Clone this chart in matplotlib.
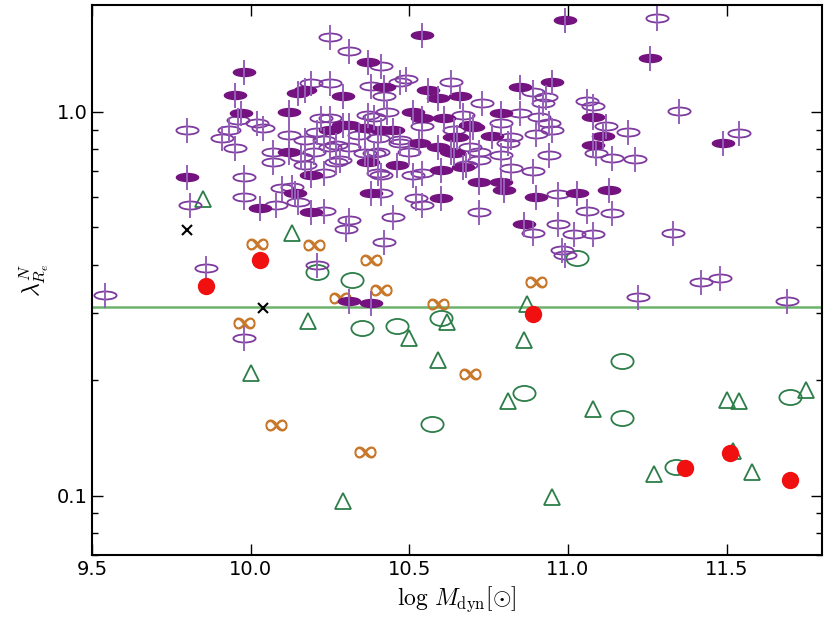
import numpy as np
import matplotlib
matplotlib.use("Agg")
import matplotlib.pyplot as plt
from matplotlib.path import Path
from matplotlib.transforms import Affine2D
from matplotlib.ticker import FixedLocator, FuncFormatter

plt.rcParams["mathtext.fontset"] = "cm"

# fast rotators, open symbols (log Mdyn, lambda_Re)
open_x = [9.54, 9.80, 9.93, 9.91, 9.95, 9.96, 10.02, 10.04, 10.07, 10.07, 9.98, 9.98,
          9.81, 10.08, 10.10, 10.12, 10.25, 10.31, 10.41, 10.19, 10.25, 10.38, 10.42,
          10.49, 10.47, 10.63, 10.25, 10.37, 10.43, 10.21, 10.17, 10.23, 10.27, 10.34,
          10.40, 10.47, 10.50, 10.40, 10.20, 10.28, 10.16, 10.17, 10.23, 10.40, 10.51,
          10.15, 10.23, 10.31, 10.30, 10.42, 10.45, 10.52, 10.54, 10.21, 9.86, 9.98,
          11.28, 11.35, 11.54, 10.89, 10.93, 10.92, 10.73, 11.06, 11.08, 11.12, 11.19,
          11.09, 11.14, 11.21, 10.85, 10.67, 10.79, 10.82, 10.90, 10.95, 10.91, 10.94,
          10.81, 10.72, 10.79, 10.94, 10.82, 10.89, 10.97, 10.72, 11.06, 11.14, 11.33,
          10.89, 10.97, 11.02, 11.08, 10.98, 10.99, 11.42, 11.48, 11.22, 11.69, 10.41,
          10.13, 10.25, 10.36, 10.54, 10.69, 10.72, 10.54, 10.64, 10.68,
          10.22, 10.39, 10.47, 10.31, 10.39, 10.41, 10.27]
open_y = [0.334, 0.90, 0.90, 0.856, 0.806, 0.953, 0.937, 0.909, 0.787, 0.741, 0.677, 0.600,
          0.573, 0.573, 0.634, 0.871, 1.57, 1.44, 1.32, 1.19, 1.19, 1.17, 1.10,
          1.22, 1.20, 1.20, 0.965, 0.982, 1.00, 0.887, 0.846, 0.846, 0.821, 0.871,
          0.856, 0.846, 0.787, 0.787, 0.787, 0.750, 0.764, 0.728, 0.694, 0.694, 0.685,
          0.583, 0.552, 0.523, 0.496, 0.459, 0.533, 0.597, 0.573, 0.400, 0.393, 0.258,
          1.76, 1.006, 0.882, 1.127, 1.094, 1.055, 1.055, 1.068, 1.036, 0.919, 0.887,
          0.782, 0.759, 0.755, 0.994, 0.982, 0.937, 0.861, 0.876, 0.898, 0.971, 0.937,
          0.831, 0.787, 0.773, 0.773, 0.715, 0.702, 0.612, 0.549, 0.552, 0.546, 0.484,
          0.484, 0.511, 0.481, 0.481, 0.437, 0.424, 0.361, 0.370, 0.330, 0.322, 0.616,
          0.638, 0.811, 0.782, 0.919, 0.811, 0.750, 0.694, 0.898, 0.728,
          0.965, 0.971, 0.830, 0.811, 0.782, 0.685, 0.741]

# fast rotators, filled symbols
fill_x = [9.98, 9.95, 9.97, 10.12, 10.12, 9.80, 10.03, 10.37, 10.54, 10.17, 10.15, 10.29,
          10.42, 10.56, 10.59, 10.51, 10.54, 10.61, 10.25, 10.31, 10.36, 10.41, 10.45,
          10.53, 10.59, 10.64, 10.37, 10.46, 10.60, 10.19, 10.14, 10.38, 10.60, 10.19,
          10.31, 10.38, 10.99, 11.26, 11.49, 10.95, 10.85, 10.66, 11.08, 11.11, 11.08,
          10.79, 10.70, 10.76, 10.65, 10.64, 10.67, 10.72, 10.79, 10.80, 10.90, 11.03,
          11.13, 10.86, 10.29, 10.63, 10.69]
fill_y = [1.27, 1.107, 0.994, 1.00, 0.787, 0.677, 0.562, 1.35, 1.59, 1.14, 1.12, 1.10,
          1.16, 1.14, 1.087, 1.00, 0.965, 0.965, 0.898, 0.925, 0.909, 0.898, 0.898,
          0.830, 0.811, 0.861, 0.741, 0.728, 0.706, 0.685, 0.616, 0.616, 0.597, 0.549,
          0.322, 0.318, 1.74, 1.38, 0.830, 1.197, 1.16, 1.10, 0.971, 0.866, 0.821,
          0.994, 0.914, 0.866, 0.861, 0.782, 0.719, 0.657, 0.657, 0.627, 0.600, 0.616,
          0.627, 0.511, 0.925, 0.787, 0.925]

# slow rotators, open ellipses
circ_x = [10.21, 10.32, 10.35, 10.46, 10.60, 10.57, 11.17, 10.86, 11.17, 11.34, 11.70, 11.03]
circ_y = [0.382, 0.365, 0.273, 0.277, 0.291, 0.154, 0.224, 0.185, 0.159, 0.119, 0.181, 0.416]

# triangles
tri_x = [10.18, 10.00, 10.29, 10.50, 10.59, 10.62, 10.87, 10.86, 10.81, 11.08, 10.95,
         11.27, 11.50, 11.54, 11.52, 11.58, 11.75, 9.85, 10.13]
tri_y = [0.285, 0.209, 0.097, 0.257, 0.226, 0.283, 0.316, 0.255, 0.176, 0.168, 0.099,
         0.114, 0.178, 0.176, 0.131, 0.115, 0.189, 0.594, 0.484]

# infinity symbols
inf_x = [9.98, 10.02, 10.20, 10.38, 10.41, 10.28, 10.59, 10.08, 10.36, 10.69, 10.90]
inf_y = [0.282, 0.452, 0.450, 0.412, 0.344, 0.327, 0.316, 0.153, 0.130, 0.208, 0.361]

# red filled circles
red_x = [9.86, 10.03, 10.89, 11.37, 11.51, 11.70]
red_y = [0.352, 0.412, 0.298, 0.118, 0.129, 0.110]

# crosses
cross_x = [9.80, 10.04]
cross_y = [0.493, 0.309]

threshold = 0.31

ellipse = Path.unit_circle().transformed(Affine2D().scale(1.0, 0.36))
ellipse_g = Path.unit_circle().transformed(Affine2D().scale(1.0, 0.68))

fig = plt.figure(figsize=(8.3, 6.23), dpi=100)
ax = fig.add_axes([0.111, 0.109, 0.879, 0.883])

ax.axhline(threshold, color="#6cb26c", linewidth=1.8, zorder=1)

ax.plot(inf_x, inf_y, linestyle="none", marker=r"$\infty$", markersize=15,
        color="#c8782a", zorder=2)
ax.plot(circ_x, circ_y, linestyle="none", marker=ellipse_g, markersize=16,
        markerfacecolor="none", markeredgecolor="#2c7d48", markeredgewidth=1.3, zorder=3)
ax.plot(tri_x, tri_y, linestyle="none", marker="^", markersize=11,
        markerfacecolor="none", markeredgecolor="#2c7d48", markeredgewidth=1.3, zorder=3)

ax.plot(open_x, open_y, linestyle="none", marker=ellipse, markersize=16,
        markerfacecolor="none", markeredgecolor="#7e3a9e", markeredgewidth=1.3, zorder=4)
ax.plot(fill_x, fill_y, linestyle="none", marker=ellipse, markersize=16,
        markerfacecolor="#74127f", markeredgecolor="#74127f", markeredgewidth=1.0, zorder=5)
ax.plot(open_x + fill_x, open_y + fill_y, linestyle="none", marker="|", markersize=18,
        markeredgecolor="#9460b8", markeredgewidth=1.4, zorder=6)

ax.plot(red_x, red_y, linestyle="none", marker="o", markersize=12.5,
        color="#f01010", markeredgewidth=0, zorder=7)
ax.plot(cross_x, cross_y, linestyle="none", marker="x", markersize=6.5,
        color="black", markeredgewidth=1.5, zorder=7)

ax.set_yscale("log")
ax.set_xlim(9.5, 11.8)
ax.set_ylim(0.070, 1.9)
ax.xaxis.set_major_locator(FixedLocator([9.5, 10.0, 10.5, 11.0, 11.5]))
ax.xaxis.set_major_formatter(FuncFormatter(lambda v, p: f"{v:.1f}"))
ax.yaxis.set_major_locator(FixedLocator([0.1, 1.0]))
ax.yaxis.set_major_formatter(FuncFormatter(lambda v, p: f"{v:.1f}"))
ax.yaxis.set_minor_formatter(FuncFormatter(lambda v, p: ""))
ax.tick_params(which="both", direction="in", top=True, right=True, labelsize=14)
ax.tick_params(which="major", length=8, width=1)
ax.tick_params(which="minor", length=4, width=1)
for s in ax.spines.values():
    s.set_linewidth(1.5)

ax.set_xlabel(r"$\log\,M_{\rm dyn}[\odot]$", fontsize=17)
ax.set_ylabel(r"$\lambda_{R_e}^{N}$", fontsize=17)

fig.savefig("out.png", dpi=100)
